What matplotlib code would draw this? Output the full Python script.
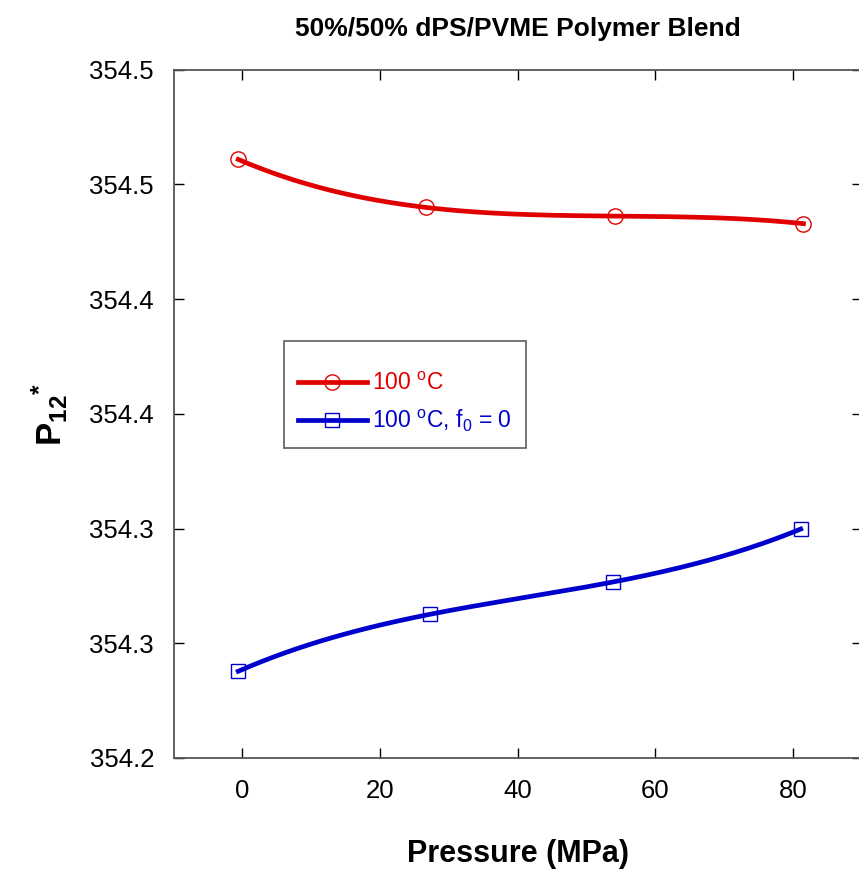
import numpy as np
import matplotlib
matplotlib.use('Agg')
import matplotlib.pyplot as plt

plt.rcParams['font.family'] = ['Liberation Sans', 'DejaVu Sans']
plt.rcParams['mathtext.fontset'] = 'custom'
plt.rcParams['mathtext.rm'] = 'Liberation Sans'
plt.rcParams['mathtext.it'] = 'Liberation Sans:italic'
plt.rcParams['mathtext.bf'] = 'Liberation Sans:bold'

# data
pressure_100 = [-0.6, 26.6, 54.1, 81.5]
p12_100 = [354.4609, 354.4400, 354.4362, 354.4329]

pressure_f0 = [-0.6, 27.2, 53.8, 81.1]
p12_f0 = [354.2378, 354.2626, 354.2767, 354.2998]

y_ticks = [354.20, 354.25, 354.30, 354.35, 354.40, 354.45, 354.50]
y_tick_labels = ['354.2', '354.3', '354.3', '354.4', '354.4', '354.5', '354.5']
x_ticks = [0, 20, 40, 60, 80]

RED = '#e00000'
BLUE = '#0000cc'


def smooth(x, y, n=200):
    x = np.asarray(x, float)
    y = np.asarray(y, float)
    y0 = y.mean()
    coef = np.polyfit(x, y - y0, len(x) - 1)
    xs = np.linspace(x.min(), x.max(), n)
    return xs, np.polyval(coef, xs) + y0


def main():
    fig = plt.figure(figsize=(8.59, 8.77), dpi=100)
    ax = fig.add_axes([0.202, 0.1357, 0.8015, 0.7848])

    for x, y, col, mk, lab in [
            (pressure_100, p12_100, RED, 'o', '100 $^\\mathrm{o}$C'),
            (pressure_f0, p12_f0, BLUE, 's', '100 $^\\mathrm{o}$C, f$_\\mathrm{0}$ = 0')]:
        xs, ys = smooth(x, y)
        ax.plot(xs, ys, '-', color=col, lw=3.4, zorder=2)
        ax.plot(x, y, linestyle='none', marker=mk, ms=11 if mk == 'o' else 10,
                mfc='none', mec=col, mew=1.0, zorder=3)
        ax.plot([], [], '-', color=col, lw=3.4, marker=mk,
                ms=11 if mk == 'o' else 10, mfc='none', mec=col, mew=1.0, label=lab)

    ax.set_xlim(-10, 90)
    ax.set_ylim(354.2, 354.5)
    ax.set_xticks(x_ticks)
    ax.set_yticks(y_ticks)
    ax.set_yticklabels(y_tick_labels)

    ax.tick_params(direction='in', length=7, width=1.0, top=True, right=True,
                   labelsize=18.5, color='black')
    ax.tick_params(axis='x', pad=15)
    ax.tick_params(axis='y', pad=14)
    for sp in ax.spines.values():
        sp.set_color('#555555')
        sp.set_linewidth(1.3)

    ax.set_title('50%/50% dPS/PVME Polymer Blend', fontsize=19, fontweight='bold', pad=24)
    ax.set_xlabel('Pressure (MPa)', fontsize=22, fontweight='bold', labelpad=26)
    ax.set_ylabel(r'$\mathbf{P}_{\mathbf{12}}{}^{\mathbf{*}}$', fontsize=25, labelpad=14)

    leg = ax.legend(loc='upper left', bbox_to_anchor=(0.1605, 0.606), borderaxespad=0,
                    fontsize=16.5, labelcolor='linecolor', fancybox=False,
                    edgecolor='#333333', handlelength=3.0, borderpad=0.6,
                    labelspacing=0.55, handletextpad=0.25,
                    title=' ', title_fontsize=4)
    leg.get_frame().set_linewidth(1.2)

    plt.savefig('out.png', dpi=100, facecolor='w')


if __name__ == '__main__':
    main()
